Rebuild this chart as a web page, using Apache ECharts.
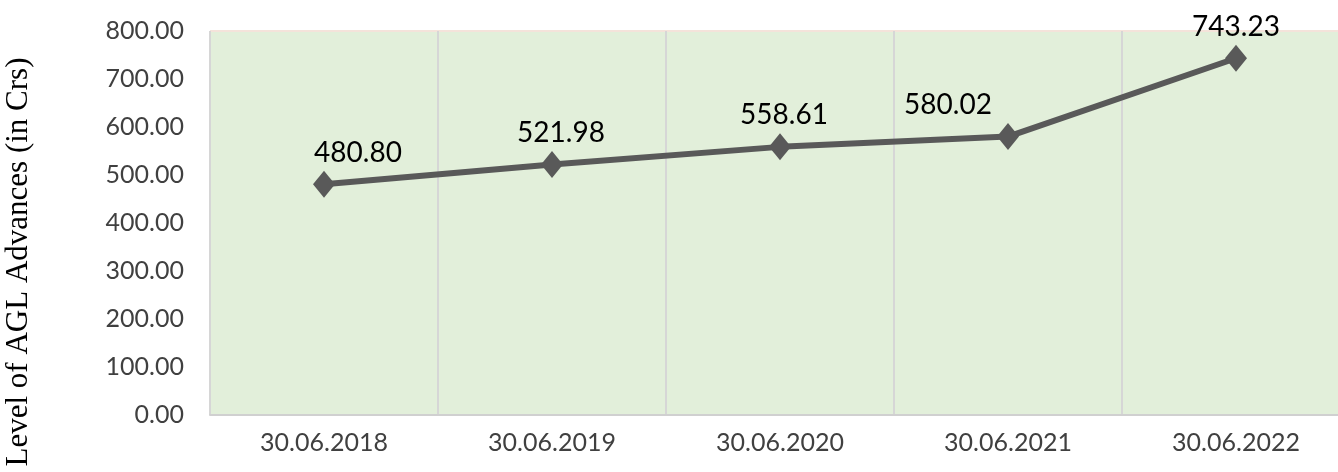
<!DOCTYPE html>
<html>
<head>
<meta charset="utf-8">
<script src="https://cdn.jsdelivr.net/npm/echarts@6/dist/echarts.min.js"></script>
<style>
html,body{margin:0;padding:0;background:#fff;overflow:hidden;}
#wrap{width:1338px;height:472px;overflow:hidden;}
#c{width:1350px;height:472px;}
</style>
</head>
<body>
<div id="wrap"><div id="c"></div></div>
<script>
const categories = ['30.06.2018','30.06.2019','30.06.2020','30.06.2021','30.06.2022'];
const values = [480.80, 521.98, 558.61, 580.02, 743.23];
const yTicks = [0, 100, 200, 300, 400, 500, 600, 700, 800];
const yTitle = 'Level of AGL Advances (in Crs)';

// label nudges (style only), mimicking Excel's placed labels
const labelShift = [34, 9, 4, -60, 0];

const chart = echarts.init(document.getElementById('c'), null, {renderer:'canvas'});
const splitColors = yTicks.map((t,i)=> i===yTicks.length-1 ? '#F4E3DA' : 'rgba(0,0,0,0)');
chart.setOption({
  animation:false,
  grid:{left:210, right:0, top:31, bottom:57, show:true, backgroundColor:'#E2EFDA', borderWidth:0,
    outerBoundsMode:'none', containLabel:false},
  xAxis:{
    type:'category', data:categories, boundaryGap:true,
    axisLine:{show:true, lineStyle:{color:'#D0D0D0', width:2}},
    axisTick:{show:false},
    splitLine:{show:true, lineStyle:{color:'#D6D6D6', width:2}},
    axisLabel:{color:'#404040', fontFamily:'Lato', fontSize:25, margin:15}
  },
  yAxis:{
    type:'value', min:yTicks[0], max:yTicks[yTicks.length-1], interval:100,
    axisLine:{show:false}, axisTick:{show:false},
    splitLine:{show:true, lineStyle:{color:splitColors, width:2}},
    axisLabel:{color:'#404040', fontFamily:'Lato', fontSize:25, margin:26,
      formatter:(v)=>v.toFixed(2)},
    name:yTitle, nameLocation:'middle', nameGap:176, nameRotate:90,
    nameTextStyle:{fontFamily:'Liberation Serif', fontSize:31, color:'#000', padding:[0,78,0,0]}
  },
  series:[{
    type:'line', data:values.map((v,i)=>({value:v, label:{offset:[labelShift[i], 0]}})),
    symbol:'diamond', symbolSize:[22,27],
    lineStyle:{color:'#595959', width:6},
    itemStyle:{color:'#595959'},
    label:{show:true, position:'top', distance:4, color:'#000', fontFamily:'Lato', fontSize:28,
      formatter:(p)=>p.value.toFixed(2)}
  }]
});
</script>
</body>
</html>
